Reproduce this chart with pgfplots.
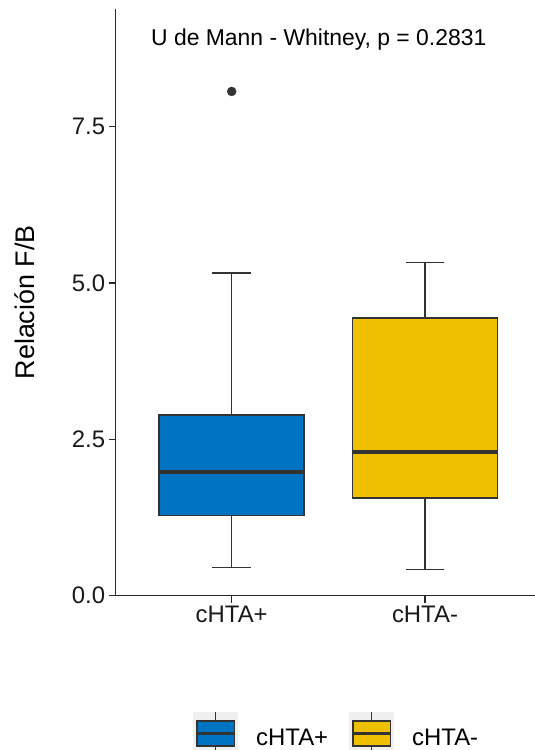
\documentclass[border=0pt]{standalone}
\usepackage{pgfplots}
\pgfplotsset{compat=1.18}
\usepgfplotslibrary{statistics}
\usepackage{fontspec}
\setmainfont{Liberation Sans}
\definecolor{jcoblue}{HTML}{0073C2}
\definecolor{jcoyellow}{HTML}{EFC000}
\definecolor{grey20}{HTML}{333333}
\definecolor{keybg}{HTML}{F0F0F0}

\begin{document}
\begin{tikzpicture}
\useasboundingbox (-115.7bp,-154.3bp) rectangle (419.3bp,595.7bp);
\clip (-115.7bp,-154.3bp) rectangle (419.3bp,595.7bp);
\begin{axis}[
  scale only axis, width=425.3bp, height=586.7bp,
  xmin=0.4, xmax=2.6, ymin=0, ymax=9.378,
  axis lines*=left,
  axis line style={line width=1.4bp, black!85, -},
  tick align=outside, major tick length=7bp,
  tick style={line width=1.3bp, black!85},
  xtick={1,2}, xticklabels={cHTA+,cHTA-},
  ytick={0,2.5,5,7.5},
  /pgf/number format/assume math mode=true,
  yticklabel style={/pgf/number format/fixed, /pgf/number format/fixed zerofill, /pgf/number format/precision=1},
  tick label style={font=\fontsize{24}{28}\selectfont, text=black!90},
  ylabel={Relación F/B},
  ylabel style={at={(axis description cs:-0.2133,0.5)}, anchor=center, font=\fontsize{27}{32}\selectfont},
  clip=false,
  boxplot/draw direction=y,
  boxplot/box extend=0.75,
  boxplot/whisker extend=0.2,
  boxplot/every median/.style={line width=3.6bp},
  boxplot/every whisker/.style={line width=1.4bp},
  boxplot/every box/.style={line width=1.6bp},
]
% cHTA+
\addplot[boxplot prepared={draw position=1,
    lower whisker=0.45, lower quartile=1.28, median=1.98,
    upper quartile=2.89, upper whisker=5.16},
  fill=jcoblue, draw=grey20] coordinates {};
% cHTA-
\addplot[boxplot prepared={draw position=2,
    lower whisker=0.42, lower quartile=1.56, median=2.30,
    upper quartile=4.44, upper whisker=5.33},
  fill=jcoyellow, draw=grey20] coordinates {};
% outlier of cHTA+
\addplot[only marks, mark=*, mark size=4.5bp, mark options={fill=grey20, draw=grey20}]
  coordinates {(1,8.06)};
\node[anchor=base west, inner sep=0pt, font=\fontsize{23}{27}\selectfont]
  at (axis cs:0.5824,8.787) {U de Mann - Whitney, p = 0.2831};
\end{axis}
% legend
\fill[keybg] (77.3bp,-116bp) rectangle (122.3bp,-159.3bp);
\draw[grey20, line width=1.2bp] (99.8bp,-116bp) -- (99.8bp,-159.3bp);
\draw[grey20, fill=jcoblue, line width=1.6bp] (81bp,-125bp) rectangle (118.6bp,-150.3bp);
\draw[grey20, line width=2.6bp] (81bp,-137.6bp) -- (118.6bp,-137.6bp);
\node[anchor=base west, inner sep=0pt, font=\fontsize{24}{28}\selectfont] at (140.3bp,-149.3bp) {cHTA+};
\fill[keybg] (233.3bp,-116bp) rectangle (278.3bp,-159.3bp);
\draw[grey20, line width=1.2bp] (255.8bp,-116bp) -- (255.8bp,-159.3bp);
\draw[grey20, fill=jcoyellow, line width=1.6bp] (237bp,-125bp) rectangle (274.6bp,-150.3bp);
\draw[grey20, line width=2.6bp] (237bp,-137.6bp) -- (274.6bp,-137.6bp);
\node[anchor=base west, inner sep=0pt, font=\fontsize{24}{28}\selectfont] at (296.3bp,-149.3bp) {cHTA-};
\end{tikzpicture}
\end{document}
